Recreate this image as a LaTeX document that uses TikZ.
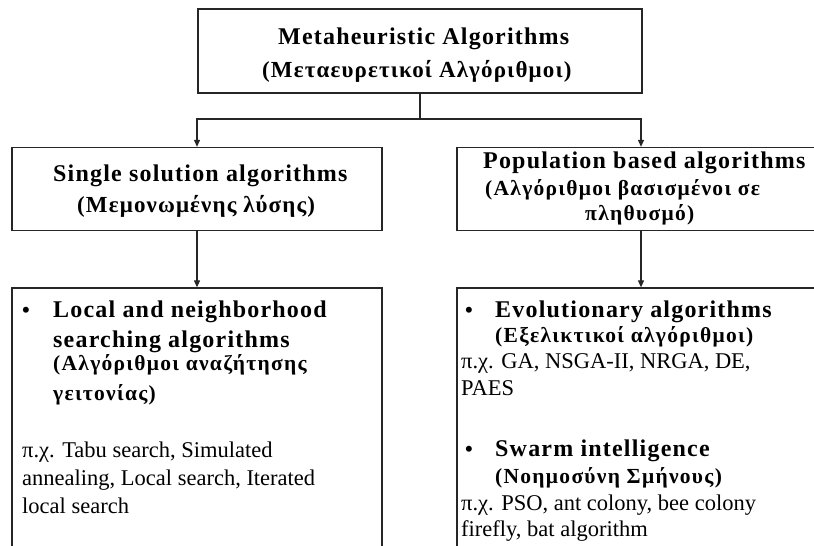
\documentclass[tikz,border=0pt]{standalone}
\usepackage{fontspec}
\setmainfont{Liberation Serif}
\newfontfamily\headfont[LetterSpace=5]{Liberation Serif}
\newfontfamily\subfont[LetterSpace=6]{Liberation Serif}
\usetikzlibrary{arrows.meta}
\begin{document}
\begin{tikzpicture}[x=1pt,y=-1pt,
  box/.style={draw=black!85, line width=1.3pt, rectangle, inner sep=0pt},
  wire/.style={draw=black!85, line width=1.1pt},
  link/.style={wire, -{Triangle[length=7pt,width=6pt]}},
  txt/.style={anchor=base west, inner sep=0pt, text=black},
  hbig/.style={txt, font=\headfont\bfseries\fontsize{24}{28}\selectfont},
  hmid/.style={txt, font=\headfont\bfseries\fontsize{23}{28}\selectfont},
  hsmall/.style={txt, font=\subfont\bfseries\fontsize{21.5}{26}\selectfont},
  body/.style={txt, font=\fontsize{22.5}{28}\selectfont},
  dot/.style={txt, font=\bfseries\fontsize{22}{28}\selectfont},
]
\useasboundingbox (0,0) rectangle (814,546);
\clip (0,0) rectangle (814,546);

% boxes
\node[box, minimum width=444pt, minimum height=84pt] (meta) at (420,51) {};
\node[box, minimum width=370pt, minimum height=83pt] (single) at (197,189) {};
\node[box, minimum width=368pt, minimum height=83pt] (pop) at (641,189) {};
\node[box, minimum width=370pt, minimum height=320pt] (local) at (197,448) {};
\node[box, minimum width=368pt, minimum height=320pt] (evol) at (641,448) {};

% connectors
\coordinate (split) at (420,119);
\draw[wire] (meta.south) -- (split);
\draw[link] (split) -| (single.north);
\draw[link] (split) -| (pop.north);
\draw[link] (single.south) -- (local.north);
\draw[link] (pop.south) -- (evol.north);

% top box
\node[hbig] (t1) at (278,44) {Metaheuristic Algorithms};
\node[hmid] (t2) at (262,77) {(Μεταευρετικοί Αλγόριθμοι)};

% second level
\node[hbig] (s1) at (53,181) {Single solution algorithms};
\node[hmid] (s2) at (77,212) {(Μεμονωμένης λύσης)};
\node[hbig] (p1) at (483,168) {Population based algorithms};
\node[hsmall] (p2) at (485,195) {(Αλγόριθμοι βασισμένοι σε};
\node[hsmall] (p3) at (585,220) {πληθυσμό)};

% single solution details
\node[dot] (lb) at (22,317) {•};
\node[hbig] (l1) at (53,317) {Local and neighborhood};
\node[hbig] (l2) at (53,347) {searching algorithms};
\node[hsmall] (l3) at (53,370) {(Αλγόριθμοι αναζήτησης};
\node[hsmall] (l4) at (53,400) {γειτονίας)};
\node[body] (l5) at (22,457) {π.χ. Tabu search, Simulated};
\node[body] (l6) at (22,485) {annealing, Local search, Iterated};
\node[body] (l7) at (22,513) {local search};

% population based details
\node[dot] (eb) at (465,317) {•};
\node[hbig] (e1) at (495,317) {Evolutionary algorithms};
\node[hsmall] (e2) at (495,342) {(Εξελικτικοί αλγόριθμοι)};
\node[body] (e3) at (461,368) {π.χ. GA, NSGA-II, NRGA, DE,};
\node[body] (e4) at (461,395) {PAES};
\node[dot] (wb) at (465,456) {•};
\node[hbig] (w1) at (495,456) {Swarm intelligence};
\node[hsmall] (w2) at (495,483) {(Νοημοσύνη Σμήνους)};
\node[body] (w3) at (461,510) {π.χ. PSO, ant colony, bee colony};
\node[body] (w4) at (461,536) {firefly, bat algorithm};
\end{tikzpicture}
\end{document}
